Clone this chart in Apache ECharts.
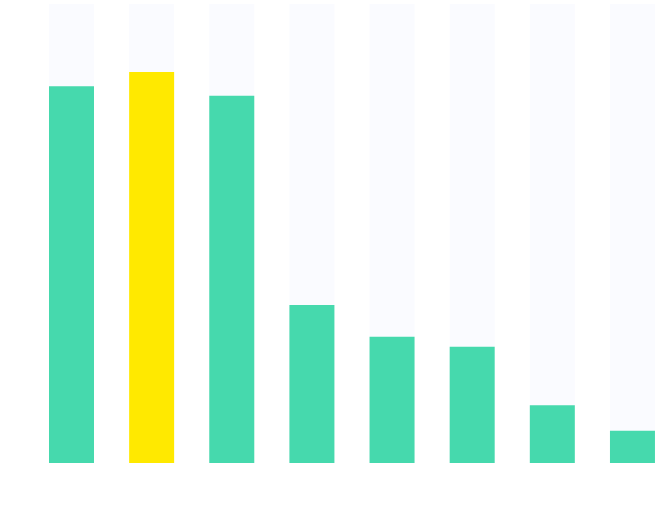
<!DOCTYPE html>
<html>
<head>
<meta charset="utf-8">
<script src="https://cdn.jsdelivr.net/npm/echarts@6/dist/echarts.min.js"></script>
<style>html,body{margin:0;padding:0;background:#fff;overflow:hidden;width:656px;height:531px;}#c{width:673px;height:531px;}</style>
</head>
<body>
<div id="c"></div>
<script>
var categories = ['1', '2', '3', '4', '5', '6', '7', '8'];
var values = [82.1, 85.2, 80.0, 34.4, 27.5, 25.3, 12.6, 7.0];
var highlightIndex = 1;
var maxValue = 100;

var chart = echarts.init(document.getElementById('c'), null, {renderer: 'canvas'});
chart.setOption({
  animation: false,
  backgroundColor: '#ffffff',
  grid: {left: 31.43, right: 0.47, top: 4, bottom: 68, containLabel: false},
  xAxis: {
    type: 'category',
    data: categories,
    axisLine: {show: false},
    axisTick: {show: false},
    axisLabel: {show: false},
    splitLine: {show: false}
  },
  yAxis: {
    type: 'value',
    min: 0,
    max: maxValue,
    show: false,
    splitLine: {show: false}
  },
  series: [{
    type: 'bar',
    barWidth: 45,
    showBackground: true,
    backgroundStyle: {color: '#fafbff'},
    data: values.map(function (v, i) {
      return {value: v, itemStyle: {color: i === highlightIndex ? '#ffe900' : '#46d9ad'}};
    })
  }]
});
</script>
</body>
</html>
